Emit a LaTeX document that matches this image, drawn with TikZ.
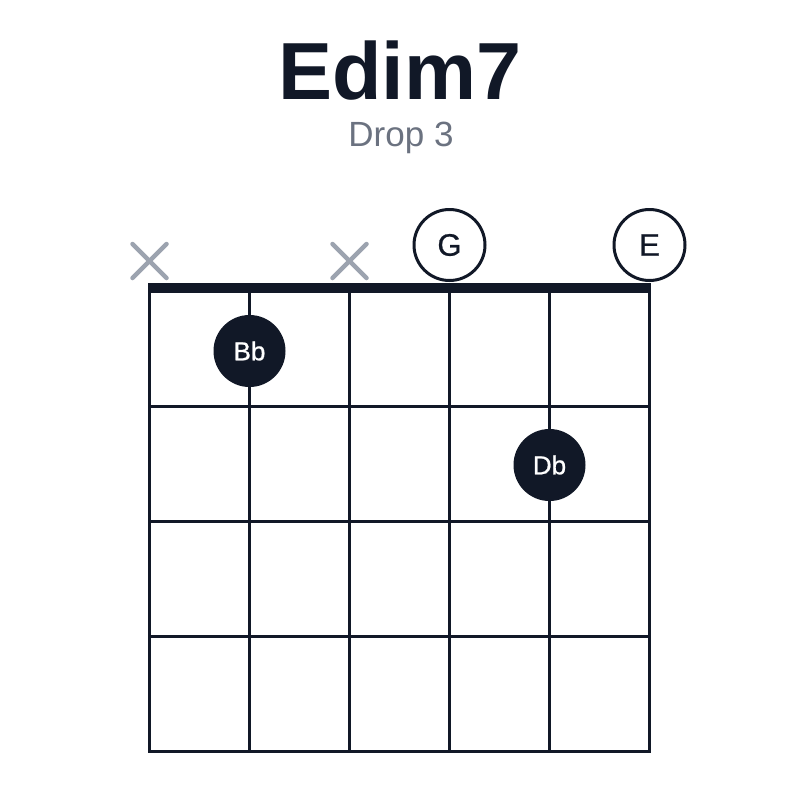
\documentclass[tikz,border=0pt]{standalone}
\usepackage{fontspec}
\setmainfont{Liberation Sans}
\newfontfamily\notefont[FakeBold=0.8]{Liberation Sans}
\definecolor{ink}{HTML}{111827}
\definecolor{subgray}{HTML}{6B7280}
\definecolor{xgray}{HTML}{9CA3AF}
\begin{document}
\begin{tikzpicture}[x=1pt,y=-1pt,
  gridline/.style={draw=ink,line width=3pt},
  nutline/.style={draw=ink,line width=10pt},
  fretdot/.style={circle,fill=ink,minimum size=72pt,inner sep=0pt,text=white,font=\notefont\fontsize{26}{26}\selectfont},
  opendot/.style={circle,draw=ink,line width=3pt,fill=white,minimum size=71pt,inner sep=0pt,text=ink,font=\notefont\fontsize{31}{31}\selectfont},
  mutemark/.style={draw=xgray,line width=4.5pt,line cap=round}]
\useasboundingbox (0,0) rectangle (800,800);
\fill[white] (0,0) rectangle (800,800);
% title
\node[anchor=base,text=ink,font=\bfseries\fontsize{81}{81}\selectfont,inner sep=0pt] (title) at (400,99) {Edim7};
\node[anchor=base,text=subgray,font=\fontsize{35}{35}\selectfont,inner sep=0pt] (subtitle) at (401,146) {Drop 3};
% strings
\foreach \i in {0,...,5} {
  \draw[gridline] (149.5+100*\i,291) -- (149.5+100*\i,751);
}
% frets
\foreach \y in {406,521,636,751} {
  \draw[gridline] (148,\y) -- (651,\y);
}
% nut
\draw[nutline] (148,287.5) -- (651,287.5);
% mutes
\foreach \x in {149.5,349.5} {
  \draw[mutemark] (\x-17,261-17) -- (\x+17,261+17);
  \draw[mutemark] (\x-17,261+17) -- (\x+17,261-17);
}
% open strings
\node[opendot] (g) at (449.5,245) {G};
\node[opendot] (e) at (649.5,245) {E};
% fretted notes
\node[fretdot] (bb) at (249.5,351) {Bb};
\node[fretdot] (db) at (549.5,465) {Db};
\end{tikzpicture}
\end{document}
